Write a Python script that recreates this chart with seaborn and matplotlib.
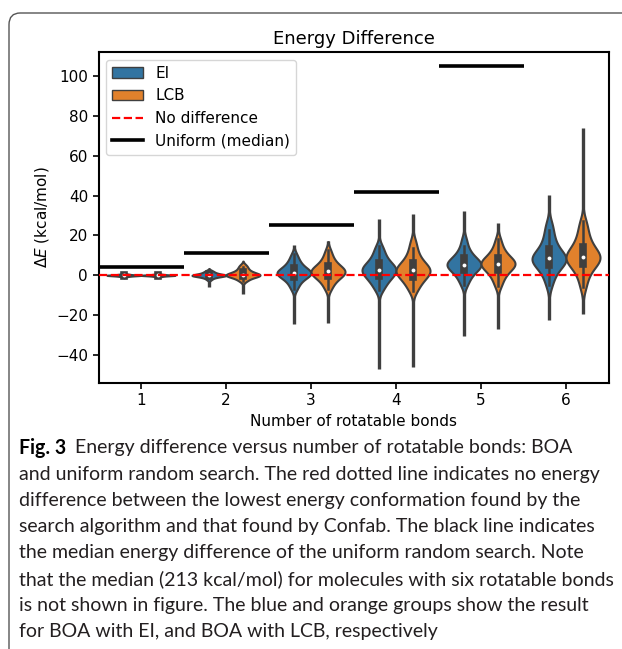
import numpy as np
import pandas as pd
import matplotlib
matplotlib.use("Agg")
import matplotlib.pyplot as plt
import seaborn as sns
from matplotlib.lines import Line2D
from matplotlib.patches import Patch, FancyBboxPatch

# Values: bulk of each distribution (quantile-like samples)
bonds = [1, 2, 3, 4, 5, 6]
methods = ["EI", "LCB"]

ei_dE = [
    [-0.9, -0.6, -0.45, -0.35, -0.25, -0.18, -0.12, -0.08, -0.05, -0.02, 0, 0.02, 0.05, 0.08, 0.12, 0.18, 0.25, 0.35, 0.45, 0.6, 0.8],
    [-2.2, -1.5, -1.1, -0.8, -0.6, -0.4, -0.3, -0.2, -0.1, -0.05, 0, 0.1, 0.2, 0.35, 0.5, 0.7, 0.9, 1.2, 1.5, 1.9, 2.4],
    [-7, -5, -3.5, -2.4, -1.5, -0.8, -0.2, 0.3, 0.7, 1.0, 1.2, 1.6, 2.0, 2.5, 3.1, 3.8, 4.6, 5.6, 6.8, 8.3, 10.5],
    [-7.5, -5.3, -3.7, -2.4, -1.4, -0.5, 0.3, 1.0, 1.6, 2.2, 2.8, 3.3, 3.9, 4.5, 5.2, 6.1, 7.2, 8.5, 10.1, 12.1, 14.5],
    [-5, -2.5, -0.8, 0.6, 1.7, 2.6, 3.4, 4.0, 4.6, 5.0, 5.4, 5.9, 6.4, 7.0, 7.7, 8.5, 9.5, 10.7, 12.3, 14.5, 18],
    [-5, -1.5, 1, 2.8, 4.2, 5.3, 6.2, 7.0, 7.7, 8.2, 8.6, 9.1, 9.8, 10.8, 12, 13.4, 15, 17, 19.5, 22.5, 26],
]
lcb_dE = [
    [-0.8, -0.55, -0.42, -0.32, -0.24, -0.17, -0.11, -0.07, -0.04, -0.02, 0, 0.02, 0.04, 0.07, 0.11, 0.17, 0.24, 0.32, 0.42, 0.55, 0.8],
    [-3, -2.2, -1.6, -1.1, -0.7, -0.4, -0.2, -0.1, 0, 0.1, 0.3, 0.5, 0.7, 1.0, 1.3, 1.7, 2.2, 2.8, 3.5, 4.3, 5.2],
    [-7, -4.8, -3.3, -2.1, -1.2, -0.5, 0.1, 0.6, 1.1, 1.6, 2.0, 2.4, 2.9, 3.4, 4.0, 4.7, 5.6, 6.7, 8.1, 9.9, 12.5],
    [-8, -5.7, -4, -2.6, -1.5, -0.6, 0.2, 0.9, 1.5, 2.1, 2.6, 3.2, 3.8, 4.5, 5.3, 6.3, 7.5, 9, 11, 13.5, 17],
    [-5.5, -2.8, -0.9, 0.6, 1.8, 2.8, 3.6, 4.3, 4.9, 5.4, 5.8, 6.3, 6.8, 7.4, 8.1, 8.9, 9.9, 11.1, 12.7, 14.8, 18],
    [-6, -2, 1, 3, 4.5, 5.7, 6.7, 7.5, 8.2, 8.8, 9.4, 10, 10.8, 11.8, 13, 14.4, 16, 18, 20.5, 23.5, 27],
]
# extremes of each distribution (thin violin tails)
ei_min = [-1.2, -6, -24.5, -47, -30.5, -22.5]
ei_max = [0.9, 2.5, 15.3, 28, 32.4, 40.5]
lcb_min = [-1.0, -9.5, -24, -46, -27, -19.5]
lcb_max = [1.0, 5.5, 17, 31, 26, 74]
# median of uniform random search (6 bonds = 213 kcal/mol, off the chart)
uniform_median = [4.4, 11.3, 25.0, 41.7, 105.0]

caption_bold = "Fig. 3"
caption_lines = [
    "Energy difference versus number of rotatable bonds: BOA",
    "and uniform random search. The red dotted line indicates no energy",
    "difference between the lowest energy conformation found by the",
    "search algorithm and that found by Confab. The black line indicates",
    "the median energy difference of the uniform random search. Note",
    "that the median (213 kcal/mol) for molecules with six rotatable bonds",
    "is not shown in figure. The blue and orange groups show the result",
    "for BOA with EI, and BOA with LCB, respectively",
]

rows = []
for b, ei, lcb in zip(bonds, ei_dE, lcb_dE):
    rows += [(b, "EI", v) for v in ei]
    rows += [(b, "LCB", v) for v in lcb]
df = pd.DataFrame(rows, columns=["bonds", "method", "dE"])

W, H = 622, 649
fig = plt.figure(figsize=(W / 100, H / 100), dpi=100)
ax = fig.add_axes([98.5 / W, 1 - 383 / H, 510 / W, 331 / H])

colors = ["#1f77b4", "#ff7f0e"]
edge = "#3f3f3f"
vwidth = 0.8
sns.violinplot(data=df, x="bonds", y="dE", hue="method", palette=colors,
               inner="box", density_norm="width", bw_adjust=0.85, cut=2,
               width=vwidth, linewidth=1.5, linecolor=edge, legend=False, ax=ax,
               inner_kws=dict(box_width=5.5, whis_width=1.8, marker="o",
                              markersize=2.8, markeredgewidth=0))

# long thin tails out to the extremes
cat = np.arange(len(bonds))
off = vwidth / 4
ax.vlines(cat - off, ei_min, ei_max, color=edge, lw=2.4, zorder=0.5)
ax.vlines(cat + off, lcb_min, lcb_max, color=edge, lw=2.4, zorder=0.5)

xpos = np.arange(len(uniform_median))
ax.hlines(uniform_median, xpos - 0.5, xpos + 0.5, color="black", lw=2.6, zorder=5)
ax.axhline(0, color="red", ls="--", lw=1.6, zorder=6)

ax.set_xlim(-0.5, 5.5)
ax.set_ylim(-54, 112)
ax.set_title("Energy Difference", fontsize=13)
ax.set_xlabel("Number of rotatable bonds", fontsize=11)
ax.set_ylabel(r"$\Delta E$ (kcal/mol)", fontsize=11)
ax.tick_params(labelsize=11, width=1.2, length=4)
for s in ax.spines.values():
    s.set_linewidth(1.5)
    s.set_color("black")

handles = [
    Patch(facecolor=sns.desaturate(colors[0], 0.75), edgecolor=edge, label="EI"),
    Patch(facecolor=sns.desaturate(colors[1], 0.75), edgecolor=edge, label="LCB"),
    Line2D([], [], color="red", ls="--", lw=1.6, label="No difference"),
    Line2D([], [], color="black", lw=2.6, label="Uniform (median)"),
]
ax.legend(handles=handles, loc="upper left", fontsize=11)

# frame around figure + caption
frame = FancyBboxPatch((9 / W, -0.2), 1.2, 1.2 - 13 / H,
                       boxstyle="round,pad=0,rounding_size=0.018",
                       transform=fig.transFigure, facecolor="none",
                       edgecolor="#555555", lw=1.0)
fig.add_artist(frame)

renderer = fig.canvas.get_renderer()
cap_font = "Lato"
probe = fig.text(0, 0, caption_lines[5], fontsize=13, family=cap_font)
wpx = probe.get_window_extent(renderer).width
probe.remove()
fs = 13 * 594 / wpx

x0 = 19 / W
y_first, dy = 448, 26.2
bold = fig.text(x0, 1 - y_first / H, caption_bold, fontsize=fs, family=cap_font,
                weight="bold", va="center")
bw = bold.get_window_extent(renderer).width
fig.text(x0 + (bw + 9) / W, 1 - y_first / H, caption_lines[0], fontsize=fs,
         family=cap_font, va="center", color="#231f20")
for i, line in enumerate(caption_lines[1:], start=1):
    fig.text(x0, 1 - (y_first + i * dy) / H, line, fontsize=fs,
             family=cap_font, va="center", color="#231f20")

fig.savefig("out.png", dpi=100)
